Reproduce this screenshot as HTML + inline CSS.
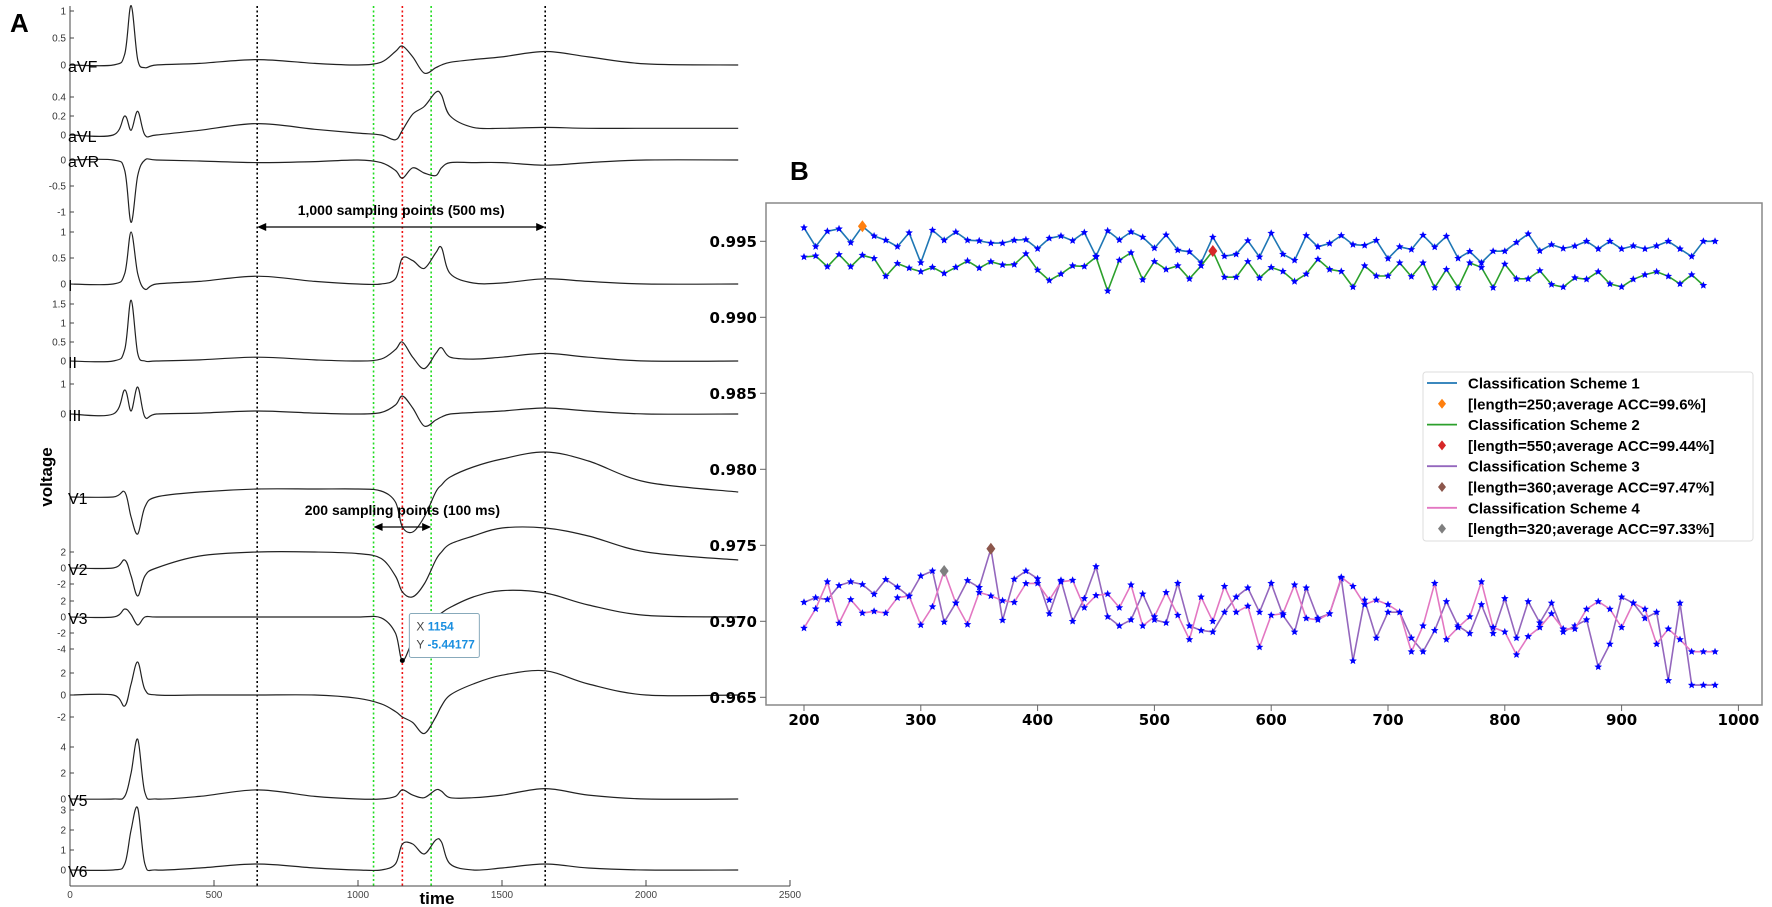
<!DOCTYPE html>
<html><head><meta charset="utf-8">
<style>
html,body{margin:0;padding:0;background:#fff;}
svg{display:block;font-family:"Liberation Sans",sans-serif;}
</style></head>
<body>
<svg id="root" width="1772" height="907" viewBox="0 0 1772 907" xmlns="http://www.w3.org/2000/svg">
  <text x="10" y="32" font-size="26" font-weight="bold">A</text>
  <text x="790" y="180" font-size="26" font-weight="bold">B</text>
  <g id="ecg"></g>
  <g id="acc"></g>
</svg>
<script>
// ================= Panel A data =================
const ecgTimes = [0,150,190,212,235,260,300,450,650,850,1000,1080,1130,1154,1190,1230,1270,1290,1320,1400,1500,1650,1800,2000,2320];
const leadNames = ['aVF','aVL','aVR','I','II','III','V1','V2','V3','V4','V5','V6'];
const leadAVF = [0,0,.2,1.1,.1,-.05,0,.03,.1,.03,0,.05,.25,.35,.15,-.15,-.05,0,.05,.1,.15,.25,.15,.02,0];
const leadAVL = [0,0,.2,.05,.25,0,0,.05,.12,.06,.02,0,-.05,.05,.22,.3,.45,.42,.2,.08,.07,.08,.07,.07,.07];
const leadAVR = [0,0,-.2,-1.2,-.3,0,0,-.02,-.05,-.03,0,-.05,-.2,-.35,-.15,-.25,-.3,-.15,-.05,-.05,-.05,-.1,-.05,0,0];
const leadI   = [0,0,.2,1.0,.2,-.1,0,.05,.15,.05,0,0,.1,.5,.45,.3,.6,.7,.2,.02,.02,.1,.05,0,0];
const leadII  = [0,0,.3,1.6,.2,0,0,.03,.1,.03,0,.05,.3,.5,.1,-.2,.2,.35,.1,.05,.1,.2,.1,0,0];
const leadIII = [0,0,.8,.1,.9,-.1,0,.03,.1,.03,0,.05,.3,.6,.2,-.4,-.2,-.1,0,.05,.1,.2,.1,0,0];
const leadV1  = [0,0,.5,-2,-3.7,-1,0,.5,.8,.8,.8,.6,-.5,-3,-3.5,-2,.5,1.2,2,3,3.8,4.5,3.6,1.5,.5];
const leadV2  = [0,0,1,-1,-3.5,-1,0,1.5,2,2,1.8,1.2,-1,-3,-3.6,-2,1,2,3,4,5,5,4,2,1];
const leadV3  = [0,0,1,.3,-1,0,0,0,0,0,0,-.1,-2,-5.44,-3,-1.5,0,.5,1.2,2.5,3.3,3,1.5,.2,0];
const leadV4  = [0,0,-1,1,3,.5,0,0,0,0,-.3,-.8,-1.5,-2,-2.5,-3.5,-2,-1,0,1,1.8,2.2,1,0,0];
const leadV5  = [0,0,.2,2,4.6,.5,0,.2,.7,.2,0,0,.2,.7,.3,.1,.7,.6,.1,.1,.3,.8,.3,0,0];
const leadV6  = [0,0,.3,2,3.1,.3,0,.1,.3,.1,0,0,.3,1.3,1.3,.8,1.5,1.4,.3,0,.1,.3,.1,0,0];
const leadTicks = [[1,.5,0],[.4,.2,0],[0,-.5,-1],[1,.5,0],[1.5,1,.5,0],[1,0],[],[2,0,-2],[2,0,-2,-4],[2,0,-2],[4,2,0],[3,2,1,0]];
const timeTicks = [0,500,1000,1500,2000,2500];
const blackMarks = [650,1650];
const greenMarks = [1054,1254];
const redMark = 1154;
const tipX = 1154, tipY = -5.44177;

// layout (style, not data)
const leadLayout = [[65,54],[135,95],[160,52],[284,52],[361,38],[414,30],[497,10],[568,8],[617,8],[695,11],[799,13],[870,20]];
const showLabel = [true,true,true,true,true,true,true,true,true,false,true,true];
const leadData = [leadAVF,leadAVL,leadAVR,leadI,leadII,leadIII,leadV1,leadV2,leadV3,leadV4,leadV5,leadV6];
const NS='http://www.w3.org/2000/svg';
function mk(tag, attrs, parent){const e=document.createElementNS(NS,tag);for(const k in attrs)e.setAttribute(k,attrs[k]);parent.appendChild(e);return e;}
const tx = t => 70 + t*0.288;
const ecg = document.getElementById('ecg');

function smoothPath(pts){
  let d='M'+pts[0][0].toFixed(1)+','+pts[0][1].toFixed(1);
  for(let i=0;i<pts.length-1;i++){
    const p0=pts[Math.max(0,i-1)],p1=pts[i],p2=pts[i+1],p3=pts[Math.min(pts.length-1,i+2)];
    const c1=[p1[0]+(p2[0]-p0[0])/6,p1[1]+(p2[1]-p0[1])/6];
    const c2=[p2[0]-(p3[0]-p1[0])/6,p2[1]-(p3[1]-p1[1])/6];
    d+=' C'+c1[0].toFixed(1)+','+c1[1].toFixed(1)+' '+c2[0].toFixed(1)+','+c2[1].toFixed(1)+' '+p2[0].toFixed(1)+','+p2[1].toFixed(1);
  }
  return d;
}

const ax = mk('line',{x1:70,y1:6,x2:70,y2:886,stroke:'#444','stroke-width':1},ecg);


const xax = mk('line',{x1:70,y1:886,x2:790,y2:886,stroke:'#444','stroke-width':1},ecg);


timeTicks.forEach(t=>{
  const tk=mk('line',{x1:tx(t),y1:886,x2:tx(t),y2:880,stroke:'#444'},ecg);
  
  
  const lb=mk('text',{x:tx(t),y:898,'font-size':10,'text-anchor':'middle',fill:'#444'},ecg);
  lb.textContent=t;
  
  
});
const xt=mk('text',{x:437,y:904,'font-size':17,'font-weight':'bold','text-anchor':'middle'},ecg);
xt.textContent='time';


const yt=mk('text',{x:0,y:0,'font-size':17,'font-weight':'bold','text-anchor':'middle',transform:'translate(52,477) rotate(-90)'},ecg);
yt.textContent='voltage';



function vline(t,color,name){
  const l=mk('line',{x1:tx(t),y1:6,x2:tx(t),y2:886,stroke:color,'stroke-width':1.6,'stroke-dasharray':'2,2.5'},ecg);
  
  
}
blackMarks.forEach(t=>vline(t,'#000','window-boundary-line'));
greenMarks.forEach(t=>vline(t,'#22dd22','sub-window-line'));
vline(redMark,'#ee1111','center-line');

leadData.forEach((vals,i)=>{
  const [base,sc]=leadLayout[i];
  const pts=ecgTimes.map((t,j)=>[tx(t),base-vals[j]*sc]);
  const p=mk('path',{d:smoothPath(pts),fill:'none',stroke:'#222','stroke-width':1.2},ecg);
  
  
  leadTicks[i].forEach(v=>{
    const y=base-v*sc;
    const tk=mk('line',{x1:70,y1:y,x2:74,y2:y,stroke:'#444'},ecg);
    
    
    const lb=mk('text',{x:66,y:y+3.5,'font-size':10,'text-anchor':'end',fill:'#333'},ecg);
    lb.textContent=String(v);
    
    
  });
  if(showLabel[i]){
    const ll=mk('text',{x:68,y:base+7,'font-size':16},ecg);
    ll.textContent=leadNames[i];
    
    
  }
});

function arrow(t1,t2,y,name){
  const g=mk('g',{},ecg);
  
  
  const a=tx(t1),b=tx(t2);
  mk('line',{x1:a+2,y1:y,x2:b-2,y2:y,stroke:'#000','stroke-width':1.3},g);
  mk('path',{d:`M${a},${y} l9,-4 l0,8 z M${b},${y} l-9,-4 l0,8 z`,fill:'#000'},g);
}
arrow(blackMarks[0],blackMarks[1],227,'span-arrow-1000');
arrow(greenMarks[0],greenMarks[1],527,'span-arrow-200');
const a1=mk('text',{x:(tx(blackMarks[0])+tx(blackMarks[1]))/2,y:215,'font-size':14,'font-weight':'bold','text-anchor':'middle'},ecg);
a1.textContent='1,000 sampling points (500 ms)';


const a2=mk('text',{x:(tx(greenMarks[0])+tx(greenMarks[1]))/2,y:515,'font-size':14,'font-weight':'bold','text-anchor':'middle'},ecg);
a2.textContent='200 sampling points (100 ms)';



const tipG=mk('g',{},ecg);


const tpx=tx(tipX), tpy=leadLayout[8][0]-tipY*leadLayout[8][1];
mk('circle',{cx:tpx,cy:tpy,r:2.5,fill:'#000'},tipG);
mk('rect',{x:tpx+7,y:tpy-47,width:70,height:44,fill:'#fff',stroke:'#8ab','stroke-width':1,rx:2},tipG);
const tt1=mk('text',{x:tpx+14,y:tpy-30,'font-size':12,fill:'#444'},tipG);
tt1.innerHTML='X <tspan fill="#1a8fe0" font-weight="bold">'+tipX+'</tspan>';
const tt2=mk('text',{x:tpx+14,y:tpy-12,'font-size':12,fill:'#444'},tipG);
tt2.innerHTML='Y <tspan fill="#1a8fe0" font-weight="bold">'+tipY+'</tspan>';

// ================= Panel B data =================
const xCats1 = [200,210,220,230,240,250,260,270,280,290,300,310,320,330,340,350,360,370,380,390,400,410,420,430,440,450,460,470,480,490,500,510,520,530,540,550,560,570,580,590,600,610,620,630,640,650,660,670,680,690,700,710,720,730,740,750,760,770,780,790,800,810,820,830,840,850,860,870,880,890,900,910,920,930,940,950,960,970,980];
const scheme1 = [.99589,.99465,.99566,.99582,.99491,.99599,.99535,.99507,.99465,.99556,.99359,.99573,.99507,.99561,.99507,.99503,.99488,.99488,.99507,.99511,
 .99451,.99520,.99535,.99504,.99558,.99402,.99569,.99509,.99562,.99527,.99455,.99542,.99442,.99431,.99359,.99527,.99402,.99415,.99504,.99397,
 .99553,.99415,.99375,.99538,.99464,.99486,.99538,.99478,.99473,.99506,.99386,.99464,.99446,.99540,.99462,.99533,.99388,.99433,.99359,.99435,
 .99435,.99493,.99549,.99437,.99478,.99453,.99469,.99500,.99450,.99500,.99450,.99470,.99450,.99470,.99500,.99450,.99400,.99500,.99500];
const scheme2 = [.99397,.99404,.99333,.99413,.99333,.99408,.99387,.9927,.99354,.99324,.99300,.99329,.99289,.99329,.99371,.99324,.99366,.99345,.99347,.99418,
 .99311,.99242,.99285,.99339,.99335,.99397,.99173,.99376,.99425,.99247,.99367,.99315,.99339,.99253,.99339,.99436,.99264,.99264,.99367,.99259,
 .99328,.99302,.99236,.99285,.99382,.99315,.99302,.99199,.99339,.99272,.99272,.99358,.99268,.99358,.99195,.99315,.99195,.99358,.99328,.99195,
 .99350,.99253,.99253,.99307,.99216,.99199,.99260,.99250,.99300,.99220,.99200,.99250,.99280,.99300,.99270,.99220,.99280,.99210];
const scheme3 = [.97125,.97155,.97143,.97235,.9726,.97242,.97178,.97275,.97225,.97164,.97298,.97331,.96995,.9712,.97268,.97223,.97477,.97007,.97277,.97331,
 .9728,.9705,.9727,.9700,.9715,.9736,.9703,.9697,.9701,.9718,.9701,.9699,.9725,.9697,.9694,.9693,.9706,.9716,.9722,.9706,
 .9725,.9704,.9693,.9722,.9702,.9705,.9728,.9674,.9714,.9689,.9706,.9706,.9689,.9680,.9694,.9713,.9697,.9692,.9711,.9692,
 .9715,.9689,.9713,.9699,.9712,.9693,.9697,.9701,.9670,.9685,.9716,.9712,.9702,.9706,.9661,.9712,.9658,.9658,.9658];
const scheme4 = [.96955,.97082,.9726,.96988,.97143,.97054,.97066,.97054,.97155,.97167,.96976,.97096,.97331,.9712,.96979,.9719,.97167,.97136,.97125,.97249,
 .9725,.9714,.9726,.9727,.9709,.9717,.9718,.9709,.9724,.9697,.9703,.9719,.9704,.9688,.9716,.9700,.9723,.9706,.9710,.9683,
 .9704,.9705,.9724,.9702,.9701,.9705,.9729,.9723,.9711,.9714,.9711,.9706,.9680,.9697,.9725,.9688,.9696,.9703,.9726,.9696,
 .9693,.9678,.9690,.9696,.9705,.9695,.9695,.9708,.9713,.9708,.9696,.9712,.9708,.9685,.9695,.9688,.9680,.9680,.9680];
const bestLen = [250,550,360,320];
const bestAcc = [.99599,.99436,.97477,.97331];
const legendText = ['Classification Scheme 1','[length=250;average ACC=99.6%]','Classification Scheme 2','[length=550;average ACC=99.44%]','Classification Scheme 3','[length=360;average ACC=97.47%]','Classification Scheme 4','[length=320;average ACC=97.33%]'];
const yTicks = [0.995,0.990,0.985,0.980,0.975,0.970,0.965];
const xTicks = [200,300,400,500,600,700,800,900,1000];

const acc=document.getElementById('acc');
const X = v => 804 + (v-200)*1.168;
const Y = v => 241.3 + (0.995-v)/0.005*76;
const frame=mk('rect',{x:766,y:203,width:996,height:502,fill:'none',stroke:'#888','stroke-width':1.5},acc);


yTicks.forEach(v=>{
  const tk=mk('line',{x1:760,y1:Y(v),x2:766,y2:Y(v),stroke:'#666'},acc);
  
  
  const lb=mk('text',{x:757,y:Y(v)+5.5,'font-size':15,'font-weight':'bold','text-anchor':'end','font-family':'DejaVu Sans, sans-serif'},acc);
  lb.textContent=v.toFixed(3);
  
  
});
xTicks.forEach(v=>{
  const tk=mk('line',{x1:X(v),y1:705,x2:X(v),y2:711,stroke:'#666'},acc);
  
  
  const lb=mk('text',{x:X(v),y:725,'font-size':15,'font-weight':'bold','text-anchor':'middle','font-family':'DejaVu Sans, sans-serif'},acc);
  lb.textContent=v;
  
  
});
const colors=['#1f77b4','#2ca02c','#9467bd','#e377c2'];
const diaColors=['#ff7f0e','#d62728','#8c564b','#7f7f7f'];
const series=[scheme1,scheme2,scheme3,scheme4];
function star(cx,cy,r){
  let d='';
  for(let k=0;k<10;k++){const a=-Math.PI/2+k*Math.PI/5;const rr=k%2?r*0.45:r;d+=(k?'L':'M')+(cx+rr*Math.cos(a)).toFixed(1)+','+(cy+rr*Math.sin(a)).toFixed(1);}
  return d+'Z';
}
series.forEach((s,i)=>{
  const g=mk('g',{},acc);
  
  
  const pts=s.map((v,j)=>X(xCats1[j]).toFixed(1)+','+Y(v).toFixed(1)).join(' ');
  mk('polyline',{points:pts,fill:'none',stroke:colors[i],'stroke-width':1.6},g);
  s.forEach((v,j)=>{
    const m=mk('path',{d:star(X(xCats1[j]),Y(v),4),fill:'#0000ff'},g);
    
    
  });
  const dx=X(bestLen[i]),dy=Y(bestAcc[i]);
  const dm=mk('path',{d:`M${dx},${dy-6} L${dx+4.5},${dy} L${dx},${dy+6} L${dx-4.5},${dy} Z`,fill:diaColors[i]},g);
  
  
});
const lg=mk('g',{},acc);


mk('rect',{x:1423,y:372,width:330,height:169,fill:'#fff',stroke:'#ddd','stroke-width':1,rx:3},lg);
legendText.forEach((t,k)=>{
  const y=383+k*20.8;
  const i=Math.floor(k/2);
  if(k%2===0){mk('line',{x1:1427,y1:y,x2:1457,y2:y,stroke:colors[i],'stroke-width':1.8},lg);}
  else{mk('path',{d:`M1442,${y-5} L1446,${y} L1442,${y+5} L1438,${y} Z`,fill:diaColors[i]},lg);}
  const tt=mk('text',{x:1468,y:y+5.5,'font-size':15,'font-weight':'bold'},lg);
  tt.textContent=t;
  
  
});
</script>
</body></html>
